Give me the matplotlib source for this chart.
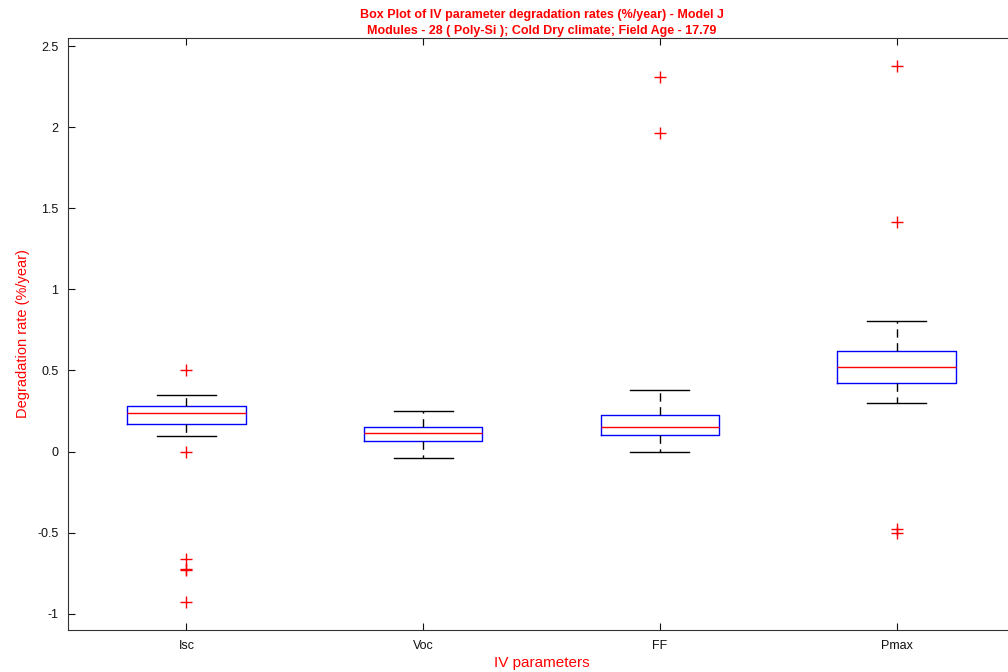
import matplotlib.pyplot as plt

plt.rcParams['font.family'] = ['Liberation Sans', 'DejaVu Sans']

params = ['Isc', 'Voc', 'FF', 'Pmax']
q1 = [0.172, 0.068, 0.105, 0.425]
med = [0.238, 0.117, 0.154, 0.523]
q3 = [0.283, 0.154, 0.228, 0.622]
wlo = [0.098, -0.037, 0.0, 0.302]
whi = [0.351, 0.252, 0.382, 0.807]
outliers = [
    [0.5, -0.003, -0.665, -0.722, -0.728, -0.93],
    [],
    [2.309, 1.964],
    [2.377, 1.416, -0.48, -0.505],
]

stats = []
for i in range(len(params)):
    stats.append(dict(label=params[i], q1=q1[i], med=med[i], q3=q3[i],
                      whislo=wlo[i], whishi=whi[i], fliers=outliers[i]))

fig = plt.figure(figsize=(10.08, 6.72), dpi=100)
ax = fig.add_axes([68 / 1008, 1 - 630 / 672, (1015 - 68) / 1008, (630 - 38) / 672])

ax.bxp(stats, positions=[1, 2, 3, 4], widths=0.5, showfliers=True,
       boxprops=dict(color='#0000ff', linewidth=1.0),
       medianprops=dict(color='#ff0000', linewidth=1.0),
       whiskerprops=dict(color='black', linewidth=1.0, linestyle=(0, (6, 4))),
       capprops=dict(color='black', linewidth=1.0),
       capwidths=0.25,
       flierprops=dict(marker='+', markeredgecolor='#ff0000', markersize=8,
                       linestyle='none'))

ax.set_xlim(0.5, 4.5)
ax.set_ylim(-1.1, 2.55)
ax.set_yticks([-1, -0.5, 0, 0.5, 1, 1.5, 2, 2.5])
ax.set_yticklabels(['-1', '-0.5', '0', '0.5', '1', '1.5', '2', '2.5'])
ax.set_xticks([1, 2, 3, 4])
ax.set_xticklabels(params)
ax.tick_params(direction='in', length=5, top=True, right=True,
               labelsize=9, colors='#111111')
ax.tick_params(axis='y', pad=7)
ax.tick_params(axis='x', pad=7)
for s in ax.spines.values():
    s.set_color('#333333')

ax.set_xlabel('IV parameters', color='#ff0000', fontsize=11, labelpad=3)
ax.set_ylabel('Degradation rate (%/year)', color='#ff0000', fontsize=10.5, labelpad=5)
ax.set_title('Box Plot of IV parameter degradation rates (%/year) - Model J\n'
             'Modules - 28 ( Poly-Si ); Cold Dry climate; Field Age - 17.79',
             color='#ff0000', fontsize=9, fontweight='bold', pad=3, linespacing=1.45)

fig.savefig('out.png', dpi=100)
